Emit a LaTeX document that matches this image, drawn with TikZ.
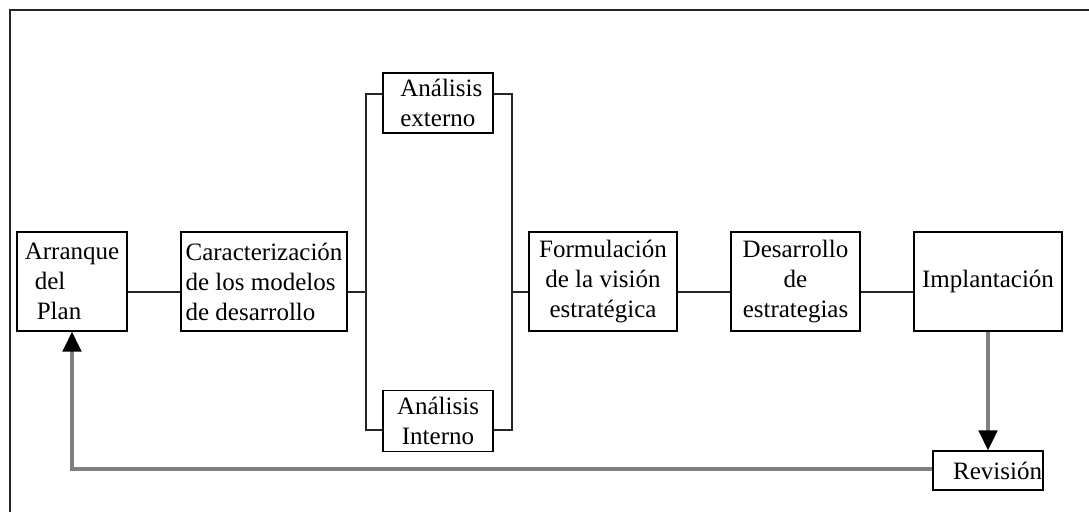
\documentclass[tikz,border=0pt]{standalone}
\usepackage{fontspec}
\setmainfont{Liberation Serif}
\usetikzlibrary{arrows.meta,calc}
\begin{document}
\begin{tikzpicture}[x=0.75pt,y=-0.75pt,
  box/.style={draw=black,line width=1.1pt,inner sep=0pt,minimum height=99*0.75pt,
    font=\fontsize{18.75pt}{22.5pt}\selectfont},
  conn/.style={draw=black!85,line width=1.1pt},
  gline/.style={draw=black!50,line width=2.6pt},
  tip/.style={-{Triangle[color=black,width=14pt,length=15pt]}}]
\useasboundingbox (0,0) rectangle (1089,512);
% frame (top and left edges)
\draw[line width=1.5pt,black!85] (10,512) -- (10,10) -- (1089,10);
\coordinate (mid) at (0,292);
\coordinate (up) at (0,94);
\coordinate (lo) at (0,430);
\coordinate (lb) at (366,292);
\coordinate (rb) at (512,292);
\coordinate (fb) at (72,469);

\node[box,minimum width=110*0.75pt,align=left] (arr) at (72,281.5)
  {Arranque\\\hspace*{7.5pt}del\\\hspace*{9pt}Plan};
\node[box,minimum width=166*0.75pt,align=left] (car) at (264,281.5)
  {Caracterización\\de los modelos\\de desarrollo};
\node[box,minimum width=110*0.75pt,minimum height=60*0.75pt,align=left] (ext) at (438,103)
  {\hspace*{5pt}Análisis\\\hspace*{5pt}externo};
\node[box,minimum width=110*0.75pt,minimum height=61*0.75pt,align=center] (int) at (438,421)
  {Análisis\\Interno};
\node[box,minimum width=148*0.75pt,align=center] (for) at (603,281.5)
  {Formulación\\de la visión\\estratégica};
\node[box,minimum width=129*0.75pt,align=center] (des) at (795.5,281.5)
  {Desarrollo\\de\\estrategias};
\node[box,minimum width=148*0.75pt,align=center] (imp) at (988,281.5)
  {Implantación};
\node[box,minimum width=110*0.75pt,minimum height=39*0.75pt,text width=108*0.75pt,align=right] (rev) at (988,470.5)
  {Revisión};

% connectors
\draw[conn] (arr.east |- mid) -- (car.west |- mid);
\draw[conn] (car.east |- mid) -- (lb);
\draw[conn] (ext.west |- up) -| (lb) |- (int.west |- lo);
\draw[conn] (ext.east |- up) -| (rb) |- (int.east |- lo);
\draw[conn] (rb) -- (for.west |- mid);
\draw[conn] (for.east |- mid) -- (des.west |- mid);
\draw[conn] (des.east |- mid) -- (imp.west |- mid);

\draw[gline,tip] (imp.south) -- (rev.north);
\draw[gline,tip] (rev.west |- fb) -- (fb) -- (arr.south);
\end{tikzpicture}
\end{document}
